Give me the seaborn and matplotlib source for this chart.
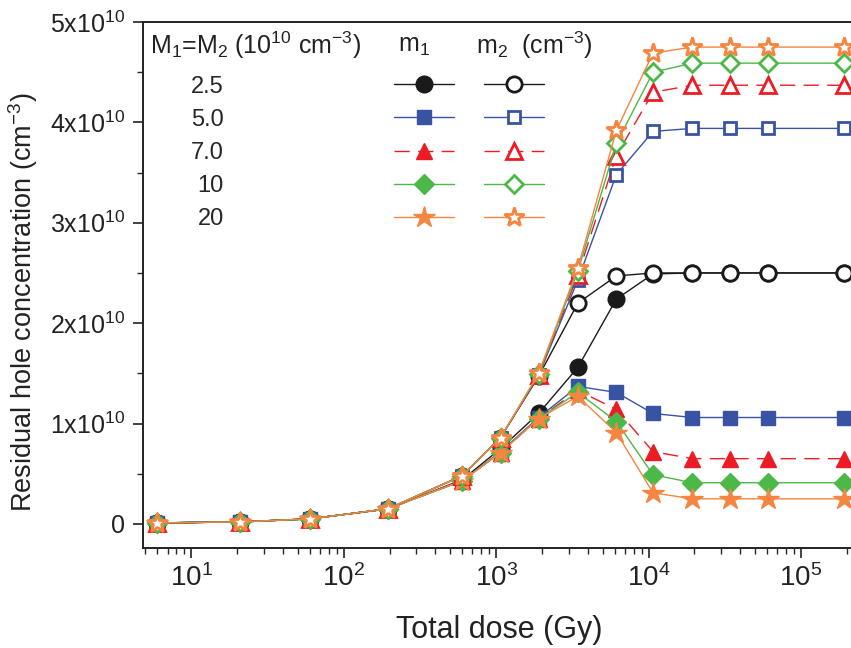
import numpy as np
import pandas as pd
import matplotlib
matplotlib.use('Agg')
import matplotlib.pyplot as plt
import seaborn as sns

# total dose (Gy)
dose = [6, 21, 60, 195, 600, 1070, 1900, 3440, 6150, 10700, 19400, 34400, 61000, 191000]

# residual hole concentration in units of 1e10 cm^-3
m1_25 = [0.01, 0.02, 0.05, 0.15, 0.44, 0.75, 1.10, 1.56, 2.24, 2.49, 2.50, 2.50, 2.50, 2.50]
m1_50 = [0.01, 0.02, 0.05, 0.15, 0.43, 0.72, 1.06, 1.37, 1.31, 1.10, 1.06, 1.06, 1.06, 1.06]
m1_70 = [0.01, 0.02, 0.05, 0.15, 0.43, 0.71, 1.05, 1.33, 1.14, 0.72, 0.65, 0.65, 0.65, 0.65]
m1_10 = [0.01, 0.02, 0.05, 0.15, 0.43, 0.71, 1.05, 1.31, 1.02, 0.49, 0.41, 0.41, 0.41, 0.41]
m1_20 = [0.01, 0.02, 0.05, 0.15, 0.43, 0.71, 1.05, 1.27, 0.91, 0.31, 0.25, 0.25, 0.25, 0.25]

m2_25 = [0.01, 0.02, 0.05, 0.15, 0.48, 0.86, 1.47, 2.20, 2.47, 2.50, 2.50, 2.50, 2.50, 2.50]
m2_50 = [0.01, 0.02, 0.05, 0.15, 0.48, 0.86, 1.48, 2.43, 3.48, 3.91, 3.94, 3.94, 3.94, 3.94]
m2_70 = [0.01, 0.02, 0.05, 0.15, 0.48, 0.86, 1.48, 2.48, 3.67, 4.30, 4.37, 4.37, 4.37, 4.37]
m2_10 = [0.01, 0.02, 0.05, 0.15, 0.48, 0.86, 1.49, 2.52, 3.79, 4.50, 4.59, 4.59, 4.59, 4.59]
m2_20 = [0.01, 0.02, 0.05, 0.15, 0.48, 0.86, 1.50, 2.55, 3.92, 4.69, 4.75, 4.75, 4.75, 4.75]

labels = ['2.5', '5.0', '7.0', '10', '20']
m1_series = [m1_25, m1_50, m1_70, m1_10, m1_20]
m2_series = [m2_25, m2_50, m2_70, m2_10, m2_20]

colors = ['#1a1a1a', '#3953a4', '#ed1c24', '#4cb848', '#f58540']
markers = ['o', 's', '^', 'D', '*']
msizes = [12, 10, 12, 10, 16]
lstyles = ['-', '-', (0, (11, 6)), '-', '-']

sns.set_theme(style='ticks')
plt.rcParams['font.family'] = ['Liberation Sans', 'DejaVu Sans']
plt.rcParams.update({
    'mathtext.fontset': 'custom',
    'mathtext.rm': 'Liberation Sans',
    'mathtext.it': 'Liberation Sans:italic',
    'mathtext.bf': 'Liberation Sans:bold',
})

fig = plt.figure(figsize=(8.51, 6.48), dpi=100)
ax = fig.add_axes([143 / 851, 1 - 548 / 648, 712 / 851, 526 / 648])

h1, h2 = [], []
for vals, c, mk, ms, ls in zip(m1_series, colors, markers, msizes, lstyles):
    d = pd.DataFrame({'dose': dose, 'conc': np.array(vals) * 1e10})
    sns.lineplot(data=d, x='dose', y='conc', ax=ax, color=c, lw=1.0, ls=ls,
                 marker=mk, ms=ms, mfc=c, mec=c, mew=1.0,
                 estimator=None, sort=False, clip_on=True)
    h1.append(ax.lines[-1])
for vals, c, mk, ms, ls in zip(m2_series, colors, markers, msizes, lstyles):
    d = pd.DataFrame({'dose': dose, 'conc': np.array(vals) * 1e10})
    sns.lineplot(data=d, x='dose', y='conc', ax=ax, color=c, lw=1.0, ls=ls,
                 marker=mk, ms=ms - 1, mfc='white', mec=c, mew=2.0,
                 estimator=None, sort=False, clip_on=True)
    h2.append(ax.lines[-1])

ax.set_xscale('log')
ax.set_xlim(4.83, 2.26e5)
ax.set_ylim(-0.24e10, 5.0e10)

yt = [0, 1e10, 2e10, 3e10, 4e10, 5e10]
ax.set_yticks(yt)
ax.set_yticklabels(['0'] + [f'{i}x10$^{{10}}$' for i in range(1, 6)])
ax.set_yticks(np.arange(0.5e10, 5e10, 1e10), minor=True)
xt = [10, 100, 1000, 1e4, 1e5]
ax.set_xticks(xt)
ax.set_xticklabels([f'10$^{{{i}}}$' for i in range(1, 6)])

ax.tick_params(axis='both', which='major', direction='out', length=7, width=1.2,
               labelsize=18, colors='#222222', pad=6)
ax.tick_params(axis='both', which='minor', direction='out', length=4, width=1.0)
ax.tick_params(axis='x', which='major', labelsize=20, pad=5)
for s in ax.spines.values():
    s.set_linewidth(1.4)
    s.set_color('#222222')

ax.set_xlabel('Total dose (Gy)', fontsize=22, labelpad=16, color='#222222')
ax.set_ylabel('Residual hole concentration (cm$^{-3}$)', fontsize=19.5,
              color='#222222')
ax.yaxis.set_label_coords(-0.145, 0.468)

# legend: values + m1 handles, then m2 handles
leg1 = ax.legend(h1, labels, loc='upper right', bbox_to_anchor=(0.437, 0.898),
                 markerfirst=False, frameon=False, fontsize=17, handlelength=2.55,
                 handletextpad=7.2, labelspacing=0.47, borderpad=0, borderaxespad=0)
ax.add_artist(leg1)
ax.legend(h2, [''] * 5, loc='upper left', bbox_to_anchor=(0.479, 0.898),
          frameon=False, fontsize=17, handlelength=2.55, handletextpad=0,
          labelspacing=0.47, borderpad=0, borderaxespad=0)

ax.text(0.01, 0.955, 'M$_1$=M$_2$ (10$^{10}$ cm$^{-3}$)', transform=ax.transAxes,
        fontsize=18, va='center', ha='left', color='#222222')
ax.text(0.358, 0.955, 'm$_1$', transform=ax.transAxes,
        fontsize=18, va='center', ha='left', color='#222222')
ax.text(0.467, 0.955, 'm$_2$  (cm$^{-3}$)', transform=ax.transAxes,
        fontsize=18, va='center', ha='left', color='#222222')

fig.savefig('out.png', dpi=100)
